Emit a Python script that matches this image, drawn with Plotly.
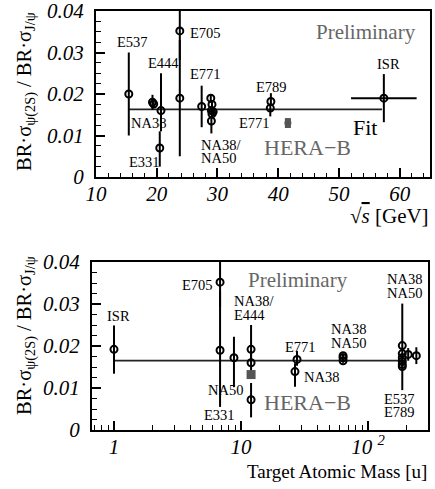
import plotly.graph_objects as go

W, H = 435, 489
FONT = "Liberation Serif"

# ---------------- data: top panel (sqrt(s) [GeV]) ----------------
top_x = [15.4, 19.3, 19.5, 20.7, 20.5, 23.8, 23.8, 27.4, 28.9, 29.1, 29.0, 29.3, 29.1, 29.0, 38.8, 38.7]
top_y = [0.0200, 0.0180, 0.0176, 0.0160, 0.0070, 0.0352, 0.0190, 0.0170, 0.0190, 0.0175, 0.0160, 0.0157, 0.0152, 0.0135, 0.0182, 0.0166]
top_eu = [0.0100, 0.0018, 0.0010, 0.0090, 0.0040, 0.0120, 0.0140, 0.0050, 0.0010, 0.0010, 0.0010, 0.0010, 0.0010, 0.0010, 0.0020, 0.0010]
top_ed = [0.0100, 0.0018, 0.0010, 0.0050, 0.0045, 0.0070, 0.0140, 0.0050, 0.0010, 0.0010, 0.0010, 0.0010, 0.0010, 0.0030, 0.0010, 0.0020]
isr_top_x, isr_top_y, isr_top_ex, isr_top_ey = [57.4], [0.0190], [5.4], [0.0058]
herab_top_x, herab_top_y, herab_top_e = [41.6], [0.0130], [0.0012]
fit_top_x, fit_top_y = [15.4, 57.1], [0.0163, 0.0163]

# ---------------- data: bottom panel (target atomic mass) ----------------
bot_x = [1.0, 6.84, 6.84, 8.8, 12.0, 12.0, 12.0, 27.6, 26.6, 63.6, 63.6, 63.6, 186, 186, 186, 186, 186, 186, 207, 240]
bot_y = [0.0192, 0.0352, 0.0190, 0.0172, 0.0192, 0.0160, 0.0072, 0.0168, 0.0139, 0.0177, 0.0172, 0.0165, 0.0201, 0.0182, 0.0172, 0.0163, 0.0156, 0.0151, 0.0180, 0.0177]
bot_eu = [0.0057, 0.0120, 0.0140, 0.0050, 0.0058, 0.0030, 0.0040, 0.0020, 0.0020, 0.0005, 0.0005, 0.0005, 0.0100, 0.0010, 0.0010, 0.0010, 0.0010, 0.0010, 0.0015, 0.0020]
bot_ed = [0.0058, 0.0060, 0.0135, 0.0070, 0.0030, 0.0030, 0.0042, 0.0015, 0.0036, 0.0005, 0.0005, 0.0005, 0.0010, 0.0010, 0.0010, 0.0010, 0.0010, 0.0056, 0.0015, 0.0020]
herab_bot_x, herab_bot_y = [12.0], [0.0132]
fit_bot_x, fit_bot_y = [1.0, 200.0], [0.0165, 0.0165]

y_ticks = [0, 0.01, 0.02, 0.03, 0.04]
y_ticktext = ["0", "0.01", "0.02", "0.03", "0.04"]
top_xticks = [10, 20, 30, 40, 50, 60]
bot_xticks = [1, 10, 100]
bot_xticktext = ["1", "10", "10 <sup>2</sup>"]

fig = go.Figure()

marker_open = dict(symbol="circle-open", size=7, color="black", line=dict(width=2, color="black"))
lw = 2

# fits
fig.add_trace(go.Scatter(x=fit_top_x, y=fit_top_y, mode="lines", line=dict(color="#222", width=1.8),
                         xaxis="x", yaxis="y", showlegend=False, hoverinfo="skip"))
fig.add_trace(go.Scatter(x=fit_bot_x, y=fit_bot_y, mode="lines", line=dict(color="#222", width=1.8),
                         xaxis="x2", yaxis="y2", showlegend=False, hoverinfo="skip"))

# top points
fig.add_trace(go.Scatter(x=top_x, y=top_y, mode="markers", marker=marker_open,
                         error_y=dict(type="data", symmetric=False, array=top_eu, arrayminus=top_ed,
                                      color="black", thickness=lw, width=0),
                         xaxis="x", yaxis="y", showlegend=False))
fig.add_trace(go.Scatter(x=isr_top_x, y=isr_top_y, mode="markers", marker=marker_open,
                         error_y=dict(type="data", array=isr_top_ey, color="black", thickness=lw, width=0),
                         error_x=dict(type="data", array=isr_top_ex, color="black", thickness=lw, width=0),
                         xaxis="x", yaxis="y", showlegend=False))
fig.add_trace(go.Scatter(x=herab_top_x, y=herab_top_y, mode="markers",
                         marker=dict(symbol="circle", size=7, color="#555"),
                         error_y=dict(type="data", array=herab_top_e, color="#555", thickness=6, width=0),
                         xaxis="x", yaxis="y", showlegend=False))

# bottom points
fig.add_trace(go.Scatter(x=bot_x, y=bot_y, mode="markers", marker=marker_open,
                         error_y=dict(type="data", symmetric=False, array=bot_eu, arrayminus=bot_ed,
                                      color="black", thickness=lw, width=0),
                         xaxis="x2", yaxis="y2", showlegend=False))
fig.add_trace(go.Scatter(x=herab_bot_x, y=herab_bot_y, mode="markers",
                         marker=dict(symbol="square", size=9, color="#555"),
                         xaxis="x2", yaxis="y2", showlegend=False))

def px(x):
    return x / W

def py(y):
    return 1 - y / H

axis_common = dict(showline=True, linecolor="black", linewidth=2, mirror=True, automargin=False,
                   ticks="inside", tickcolor="black", tickwidth=1.5, showgrid=False, zeroline=False,
                   ticklabeloverflow="allow",
                   tickfont=dict(family=FONT, size=21, color="black", style="italic"))

fig.update_layout(
    width=W, height=H, margin=dict(l=0, r=0, t=0, b=0, pad=0, autoexpand=False),
    paper_bgcolor="white", plot_bgcolor="white", showlegend=False,
    xaxis=dict(domain=[px(96), px(430)], anchor="y", range=[10, 65], tickvals=top_xticks, ticklen=9,
               minor=dict(dtick=2, ticks="inside", ticklen=4, tickcolor="black", tickwidth=1.2),
               ticklabelstandoff=-3, **axis_common),
    yaxis=dict(domain=[py(177), py(11)], anchor="x", range=[0, 0.04], tickvals=y_ticks, ticktext=y_ticktext,
               ticklen=9, minor=dict(dtick=0.0025, ticks="inside", ticklen=5, tickcolor="black", tickwidth=1.2),
               ticklabelstandoff=6, **axis_common),
    xaxis2=dict(domain=[px(92), px(428)], anchor="y2", type="log", range=[-0.173, 2.472],
                tickvals=bot_xticks, ticktext=bot_xticktext, ticklen=9,
                minor=dict(dtick="D1", ticks="inside", ticklen=5, tickcolor="black", tickwidth=1.2),
                ticklabelstandoff=-3, **axis_common),
    yaxis2=dict(domain=[py(430), py(262)], anchor="x2", range=[0, 0.04], tickvals=y_ticks, ticktext=y_ticktext,
                ticklen=9, minor=dict(dtick=0.0025, ticks="inside", ticklen=5, tickcolor="black", tickwidth=1.2),
                ticklabelstandoff=6, **axis_common),
)

def label(text, x, y, size=14.5, color="black", xanchor="left", yanchor="middle", angle=0):
    fig.add_annotation(text=text, x=px(x), y=py(y), xref="paper", yref="paper", showarrow=False,
                       xanchor=xanchor, yanchor=yanchor, textangle=angle,
                       font=dict(family=FONT, size=size, color=color))

ytitle = "BR·σ<sub>ψ(2S)</sub> / BR·σ<sub>J/ψ</sub>"
label(ytitle, 26, 92, size=20.5, xanchor="center", angle=-90)
label(ytitle, 26, 336, size=20.5, xanchor="center", angle=-90)
label("√<span style='text-decoration:overline'><i>s</i></span> [GeV]", 431, 216, size=21, xanchor="right")
label("Target Atomic Mass [u]", 429, 471, size=19, xanchor="right")

# top panel labels
label("Preliminary", 314, 32, size=21, color="#666")
label("E537", 115, 42)
label("E705", 188, 33)
label("E444", 146, 63)
label("E771", 188, 74)
label("NA38", 129, 123)
label("E331", 127, 162)
label("NA38/", 199, 145)
label("NA50", 199, 158)
label("E789", 254, 87)
label("E771", 237, 123)
label("HERA−B", 262, 147, size=22, color="#666")
label("Fit", 351, 127, size=22)
label("ISR", 375, 64)

# bottom panel labels
label("ISR", 105, 316)
label("E705", 180, 285)
label("Preliminary", 246, 280, size=21, color="#666")
label("NA38/", 232, 301)
label("E444", 232, 315)
label("NA50", 206, 390)
label("E331", 202, 415)
label("HERA−B", 262, 402, size=22, color="#666")
label("E771", 283, 347)
label("NA38", 302, 377)
label("NA38", 329, 329)
label("NA50", 329, 343)
label("NA38", 385, 279)
label("NA50", 385, 293)
label("E537", 382, 399)
label("E789", 382, 412)

fig.write_html("out.html", config={"displayModeBar": False},
               post_script="document.body.style.margin='0px';")
